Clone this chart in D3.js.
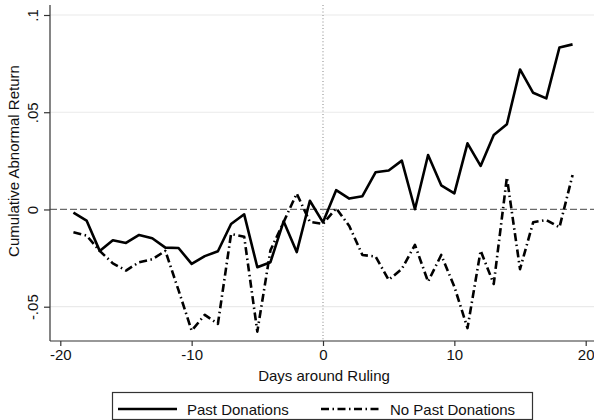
<!DOCTYPE html>
<html>
<head>
<meta charset="utf-8">
<script src="https://cdn.jsdelivr.net/npm/d3@7"></script>
<style>
  html, body { margin: 0; padding: 0; background: #fff; }
  svg { display: block; font-family: "Liberation Sans", Arial, Helvetica, sans-serif; }
</style>
</head>
<body>
<svg id="chart" width="594" height="420"></svg>
<script>
// Event window: trading days relative to the ruling
const days = d3.range(-19, 20);

// Cumulative abnormal returns by group
const pastDonations = [
  -0.0016, -0.0057, -0.0213, -0.0158, -0.0172, -0.0131, -0.0148, -0.0196, -0.0198, -0.0280,
  -0.0240, -0.0215, -0.0075, -0.0025, -0.0297, -0.0271, -0.0061, -0.0219, 0.0045, -0.0066,
  0.0099, 0.0056, 0.0068, 0.0191, 0.0200, 0.0251, 0.0001, 0.0280, 0.0124, 0.0083,
  0.0340, 0.0224, 0.0383, 0.0438, 0.0720, 0.0600, 0.0571, 0.0833, 0.0849
];
const noPastDonations = [
  -0.0117, -0.0134, -0.0213, -0.0277, -0.0314, -0.0271, -0.0256, -0.0213, -0.0415, -0.0623,
  -0.0542, -0.0588, -0.0126, -0.0140, -0.0628, -0.0210, -0.0065, 0.0082, -0.0064, -0.0074,
  0.0006, -0.0085, -0.0234, -0.0242, -0.0362, -0.0306, -0.0182, -0.0371, -0.0234, -0.0397,
  -0.0610, -0.0212, -0.0383, 0.0165, -0.0307, -0.0066, -0.0054, -0.0092, 0.0177
];

const xTicks = [-20, -10, 0, 10, 20];
const xTickLabels = ["-20", "-10", "0", "10", "20"];
const yTicks = [-0.05, 0, 0.05, 0.1];
const yTickLabels = ["-.05", "0", ".05", ".1"];
const seriesNames = ["Past Donations", "No Past Donations"];

const svg = d3.select("#chart");
const x = d3.scaleLinear().domain([-20, 20]).range([60.3, 585.7]);
const y = d3.scaleLinear().domain([-0.05, 0.1]).range([306.7, 15]);

const plotLeft = 50, plotRight = 594, plotTop = 5, plotBottom = 341;
const dashDot = "8,3.5,1.5,3.5";
const fontSize = 15;

// Horizontal grid lines
svg.append("g")
  .selectAll("line")
  .data(yTicks.filter(v => v !== 0))
  .join("line")
  .attr("x1", plotLeft).attr("x2", plotRight)
  .attr("y1", d => y(d)).attr("y2", d => y(d))
  .attr("stroke", "#eaeaea").attr("stroke-width", 1.2);

// Reference lines: zero return and ruling day
svg.append("line")
  .attr("x1", plotLeft).attr("x2", plotRight)
  .attr("y1", y(0)).attr("y2", y(0))
  .attr("stroke", "#6a6a6a").attr("stroke-width", 1.3)
  .attr("stroke-dasharray", "7,3");
svg.append("line")
  .attr("x1", x(0)).attr("x2", x(0))
  .attr("y1", plotTop).attr("y2", plotBottom)
  .attr("stroke", "#9a9a9a").attr("stroke-width", 1.2)
  .attr("stroke-dasharray", "1,2.3");

// Axes
const xAxis = d3.axisBottom(x).tickValues(xTicks).tickSize(5).tickPadding(3)
  .tickFormat((d, i) => xTickLabels[i]);
const gx = svg.append("g").attr("transform", `translate(0,${plotBottom})`).call(xAxis);
gx.select(".domain").remove();
gx.append("line").attr("x1", plotLeft).attr("x2", plotRight).attr("y1", 0).attr("y2", 0)
  .attr("stroke", "#333").attr("stroke-width", 1.2);
gx.selectAll(".tick line").attr("stroke", "#333").attr("stroke-width", 1.2);
gx.selectAll(".tick text").attr("font-size", fontSize).attr("fill", "#111")
  .attr("font-family", "Liberation Sans, Arial, sans-serif");

const yAxis = d3.axisLeft(y).tickValues(yTicks).tickSize(6).tickFormat((d, i) => yTickLabels[i]);
const gy = svg.append("g").attr("transform", `translate(${plotLeft},0)`).call(yAxis);
gy.select(".domain").remove();
gy.append("line").attr("x1", 0).attr("x2", 0).attr("y1", plotTop).attr("y2", plotBottom)
  .attr("stroke", "#333").attr("stroke-width", 1.2);
gy.selectAll(".tick line").attr("stroke", "#333").attr("stroke-width", 1.2);
gy.selectAll(".tick text")
  .attr("font-size", fontSize).attr("fill", "#111")
  .attr("font-family", "Liberation Sans, Arial, sans-serif")
  .attr("x", null).attr("dy", null)
  .attr("text-anchor", "middle")
  .attr("transform", "translate(-12,0) rotate(-90)");

// Axis titles
svg.append("text")
  .attr("x", 324).attr("y", 381)
  .attr("text-anchor", "middle").attr("font-size", fontSize).attr("fill", "#111")
  .text("Days around Ruling");
svg.append("text")
  .attr("transform", "translate(19,161) rotate(-90)")
  .attr("text-anchor", "middle").attr("font-size", fontSize).attr("fill", "#111")
  .text("Cumulative Abnormal Return");

// Series lines
const line = d3.line().x((d, i) => x(days[i])).y(d => y(d));
svg.append("path")
  .datum(pastDonations)
  .attr("d", line)
  .attr("fill", "none").attr("stroke", "#000").attr("stroke-width", 2.6)
  .attr("stroke-linejoin", "round");
svg.append("path")
  .datum(noPastDonations)
  .attr("d", line)
  .attr("fill", "none").attr("stroke", "#000").attr("stroke-width", 2.6)
  .attr("stroke-linejoin", "round")
  .attr("stroke-dasharray", dashDot);

// Legend
const lg = svg.append("g");
lg.append("rect")
  .attr("x", 112.5).attr("y", 392.5).attr("width", 420).attr("height", 27)
  .attr("fill", "#fff").attr("stroke", "#333").attr("stroke-width", 1.2);
const legendItems = [
  { name: seriesNames[0], x1: 118, x2: 177, tx: 187, dash: null },
  { name: seriesNames[1], x1: 321, x2: 380, tx: 390, dash: dashDot }
];
legendItems.forEach(it => {
  lg.append("line")
    .attr("x1", it.x1).attr("x2", it.x2).attr("y1", 409).attr("y2", 409)
    .attr("stroke", "#000").attr("stroke-width", 2.6)
    .attr("stroke-dasharray", it.dash);
  lg.append("text")
    .attr("x", it.tx).attr("y", 414.5)
    .attr("font-size", fontSize).attr("fill", "#111")
    .text(it.name);
});
</script>
</body>
</html>
